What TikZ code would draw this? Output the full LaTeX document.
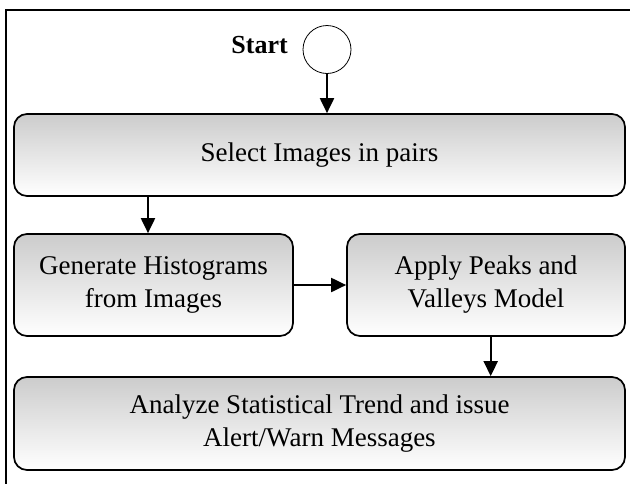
\documentclass[tikz,border=0pt]{standalone}
\usepackage{fontspec}
\setmainfont{Liberation Serif}
\usetikzlibrary{arrows.meta,shapes.geometric}
\tikzset{
  procbox/.style={draw=black, line width=1.7pt, rounded corners=13pt, top color=black!20, bottom color=white, align=center, font=\fontsize{27}{33}\selectfont, inner sep=0pt},
  arr/.style={line width=2pt, -{Triangle[length=15pt,width=14pt]}},
}
\begin{document}
\begin{tikzpicture}[x=1pt,y=-1pt]
\useasboundingbox (0,0) rectangle (630,483);
\clip (0,0) rectangle (630,483);
\draw[line width=1.6pt] (6,520) -- (6,10) -- (700,10);
\node[draw, line width=0.8pt, circle, minimum size=48pt, inner sep=0pt] (start) at (327,49.5) {};
\node[font=\fontsize{26}{30}\selectfont\bfseries, anchor=east, inner sep=0pt] (startlbl) at (288,45.5) {Start};
\node[procbox, minimum width=611pt, minimum height=82pt] (box1) at (319.5,155) {Select Images in pairs};
\node[procbox, minimum width=279pt, minimum height=102pt] (box2) at (153.5,285) {Generate Histograms\\from Images};
\node[procbox, minimum width=278pt, minimum height=102pt] (box3) at (486,285) {Apply Peaks and\\Valleys Model};
\node[procbox, minimum width=611pt, minimum height=93pt] (box4) at (319.5,423.5) {Analyze Statistical Trend and issue\\Alert/Warn Messages};
\draw[arr] (start.south) -- (start.south |- box1.north);
\draw[arr] ([xshift=-5.5pt]box2.north |- box1.south) -- ([xshift=-5.5pt]box2.north);
\draw[arr] (box2.east) -- (box3.west);
\draw[arr] ([xshift=4.7pt]box3.south) -- ([xshift=4.7pt]box3.south |- box4.north);
\end{tikzpicture}
\end{document}
